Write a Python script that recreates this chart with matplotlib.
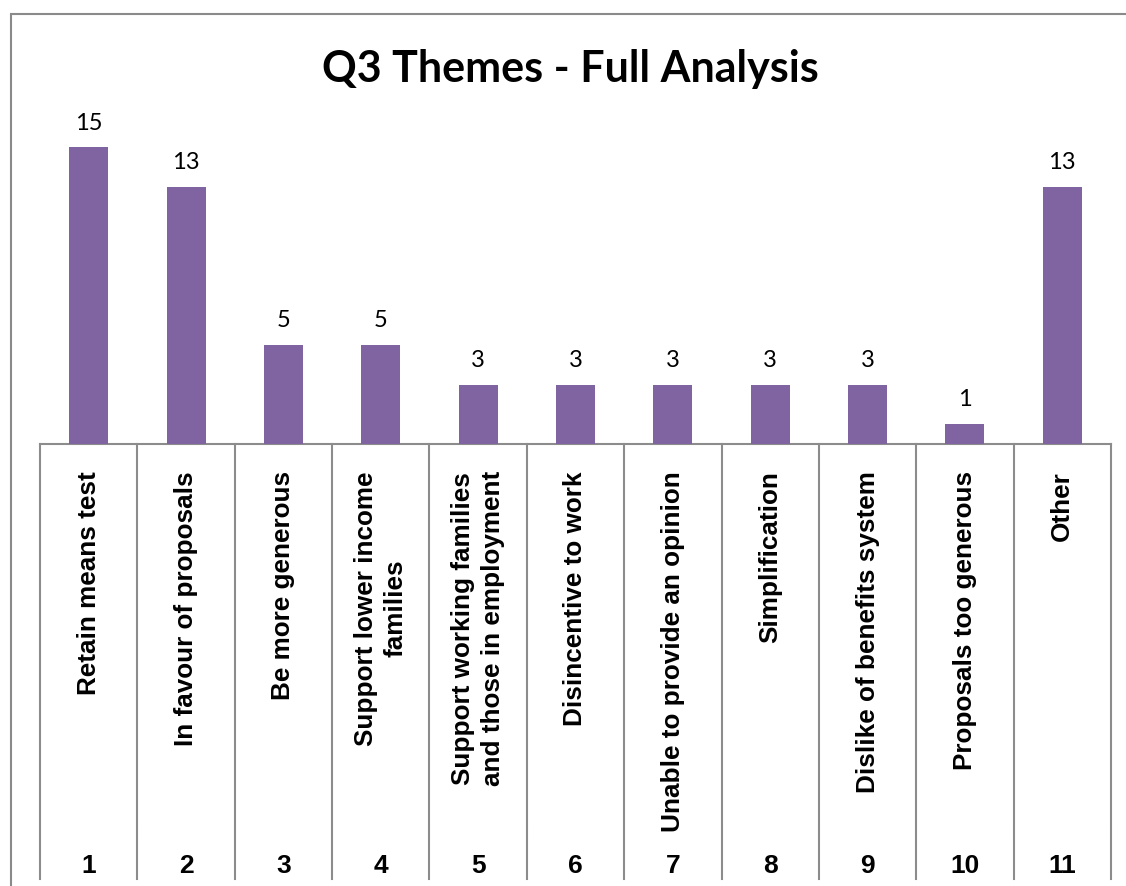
import matplotlib
matplotlib.use("Agg")
import matplotlib.pyplot as plt
from matplotlib.patches import Rectangle

# chart data
numbers = list(range(1, 12))
themes = [
    "Retain means test",
    "In favour of proposals",
    "Be more generous",
    "Support lower income\nfamilies",
    "Support working families\nand those in employment",
    "Disincentive to work",
    "Unable to provide an opinion",
    "Simplification",
    "Dislike of benefits system",
    "Proposals too generous",
    "Other",
]
counts = [15, 13, 5, 5, 3, 3, 3, 3, 3, 1, 13]

W, H = 1126, 887
fig = plt.figure(figsize=(W / 100, H / 100), dpi=100)

# plot area in pixels: left 40, right 1111, baseline 445, top 99
left, right, base, top = 40, 1111, 445, 99
ax = fig.add_axes([left / W, (H - base) / H, (right - left) / W, (base - top) / H])
ax.bar(numbers, counts, width=0.4, color="#8064A2", zorder=3)
ax.set_xlim(0.5, 11.5)
ax.set_ylim(0, 17.5)
ax.axis("off")

for x, c in zip(numbers, counts):
    ax.annotate(str(c), (x, c), xytext=(0, 13.5), textcoords="offset points",
                ha="center", va="baseline", fontsize=17, family="Lato")

# category table under the bars
grid = "#8c8c8c"
hpx = base - top
def yfrac(p):
    return (base - p) / hpx

trans = ax.get_xaxis_transform()
ax.plot([0.5, 11.5], [0, 0], color=grid, lw=1.5, transform=trans, clip_on=False)
for b in [i + 0.5 for i in range(12)]:
    ax.plot([b, b], [0, yfrac(832)], color=grid, lw=1.5, transform=trans, clip_on=False)
    ax.plot([b, b], [yfrac(834), yfrac(880)], color=grid, lw=1.5, transform=trans,
            clip_on=False)

for x, t in zip(numbers, themes):
    ax.text(x, yfrac(471), t, transform=trans, rotation=90, ha="center", va="top",
            multialignment="center", fontsize=18.8, fontweight="bold",
            family="Liberation Sans", linespacing=1.3, clip_on=False)
    ax.text(x, yfrac(866), str(x), transform=trans, ha="center", va="center",
            fontsize=19, fontweight="bold", family="Liberation Sans", clip_on=False)

fig.text(570 / W, (H - 82) / H, "Q3 Themes - Full Analysis", ha="center", va="baseline",
         fontsize=31, fontweight="bold", family="Lato")

# outer chart border
fig.patches.append(Rectangle((11 / W, -0.05), 1.1, (H - 15) / H + 0.05,
                             transform=fig.transFigure, fill=False,
                             edgecolor="#8a8a8a", lw=1.5))

fig.savefig("out.png", dpi=100)
